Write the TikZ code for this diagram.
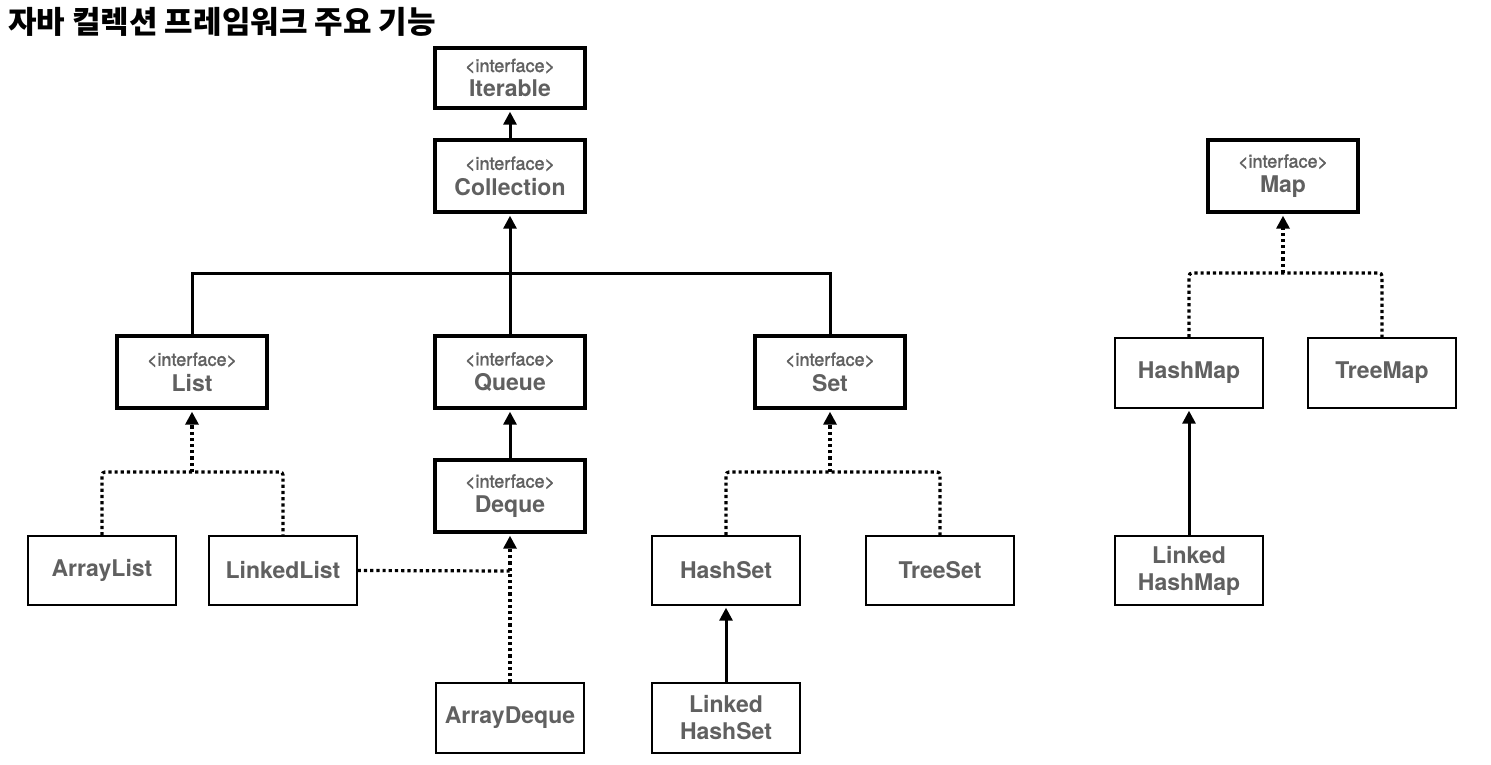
\documentclass[tikz,border=0pt]{standalone}
\usepackage{fontspec}
\setmainfont{TeX Gyre Heros}
\newfontfamily\medfont[FakeBold=2]{TeX Gyre Heros}
\newfontfamily\cjk{Noto Sans CJK KR}
\usetikzlibrary{arrows.meta,decorations.pathmorphing}
\definecolor{txt}{RGB}{96,96,96}
\newcommand{\ifc}[1]{\medfont\fontsize{18}{18}\selectfont <interface>\\[6pt]\normalfont\fontsize{23}{24}\selectfont\bfseries #1}
\tikzset{
  iface/.style={minimum width=150pt, minimum height=72pt, inner sep=0pt, draw, line width=3.4pt,
    postaction={draw, line width=1.8pt, line join=round, line cap=round, decorate, decoration={random steps, segment length=1pt, amplitude=0.9pt}},
    text=txt, align=center},
  klass/.style={minimum width=148pt, minimum height=69pt, inner sep=0pt, draw, line width=1.4pt,
    text=txt, align=center, font=\fontsize{23}{27}\selectfont\bfseries},
  conn/.style={line width=3pt},
  dotln/.style={line width=3.2pt, dash pattern=on 3.2pt off 3pt, rounded corners=3pt},
  arr/.style={-{Triangle[width=13pt,length=13pt]}, shorten >=2pt}
}
\begin{document}
\begin{tikzpicture}[x=1pt,y=-1pt]
\useasboundingbox[fill=white] (0,0) rectangle (1491,765);
\node[anchor=west, font=\cjk\bfseries\fontsize{31}{34}\selectfont, inner sep=0pt] (title) at (8,22) {자바 컬렉션 프레임워크 주요 기능};

% interfaces
\node[iface, minimum height=60pt] (iterable) at (510,78) {\ifc{Iterable}};
\node[iface] (collection) at (510,176) {\ifc{Collection}};
\node[iface] (list) at (192,372) {\ifc{List}};
\node[iface] (queue) at (510,372) {\ifc{Queue}};
\node[iface] (set) at (830,372) {\ifc{Set}};
\node[iface] (deque) at (510,496) {\ifc{Deque}};
\node[iface] (map) at (1283,176) {\ifc{Map}};

% classes
\node[klass] (arraylist) at (102,570.5) {ArrayList};
\node[klass] (linkedlist) at (283,570.5) {LinkedList};
\node[klass, minimum height=70pt] (arraydeque) at (510,718) {ArrayDeque};
\node[klass] (hashset) at (726,570.5) {HashSet};
\node[klass] (treeset) at (940,570.5) {TreeSet};
\node[klass, minimum height=70pt] (linkedhashset) at (726,718) {Linked\\HashSet};
\node[klass, minimum height=70pt] (hashmap) at (1189,373) {HashMap};
\node[klass, minimum height=70pt] (treemap) at (1382,373) {TreeMap};
\node[klass] (linkedhashmap) at (1189,570.5) {Linked\\HashMap};

% junction points
\coordinate (cbar) at (510,273);
\coordinate (lbar) at (192,472);
\coordinate (sbar) at (830,472);
\coordinate (mbar) at (1283,273);
\coordinate (djoin) at (510,571);

% solid connectors
\draw[conn,arr] (collection.north) -- (iterable.south);
\draw[conn] (list.north) |- (cbar) -| (set.north);
\draw[conn,arr] (queue.north) -- (collection.south);
\draw[conn,arr] (deque.north) -- (queue.south);
\draw[conn,arr] (linkedhashset.north) -- (hashset.south);
\draw[conn,arr] (linkedhashmap.north) -- (hashmap.south);

% dotted connectors
\draw[dotln] (arraylist.north) |- (lbar) -| (linkedlist.north);
\draw[dotln,arr] (lbar) -- (list.south);
\draw[dotln] (linkedlist.east) -- (djoin);
\draw[dotln,arr] (arraydeque.north) -- (deque.south);
\draw[dotln] (hashset.north) |- (sbar) -| (treeset.north);
\draw[dotln,arr] (sbar) -- (set.south);
\draw[dotln] (hashmap.north) |- (mbar) -| (treemap.north);
\draw[dotln,arr] (mbar) -- (map.south);
\end{tikzpicture}
\end{document}
